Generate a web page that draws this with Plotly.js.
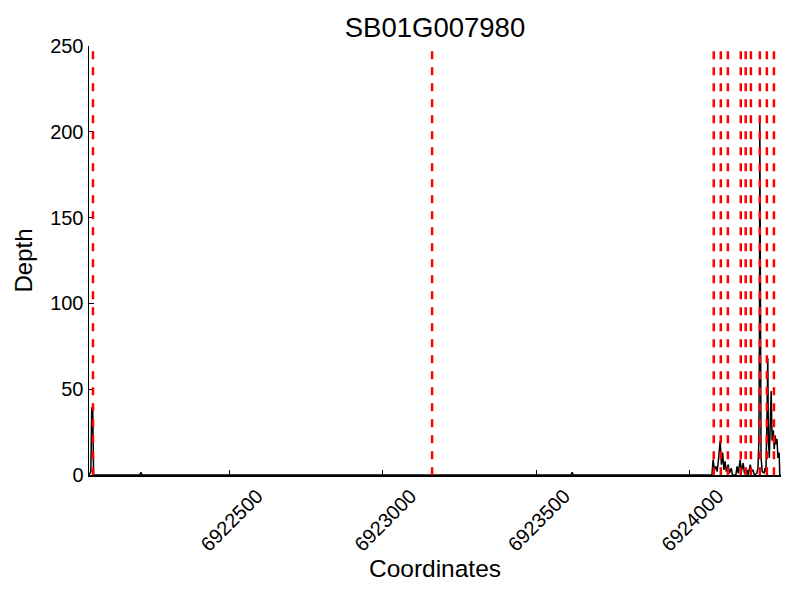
<!DOCTYPE html>
<html>
<head>
<meta charset="utf-8">
<script src="https://cdn.plot.ly/plotly-3.0.1.min.js"></script>
<style>html,body{margin:0;padding:0;background:#fff;}#chart{width:800px;height:600px;}</style>
</head>
<body>
<div id="chart"></div>
<script>
// Depth coverage along the gene region
const positions = [
  6922044, 6922050, 6922053, 6922056, 6922059,
  6922209, 6922213, 6922217,
  6923613, 6923617, 6923621,
  6924072, 6924076, 6924080, 6924085, 6924089, 6924093, 6924099, 6924103, 6924107, 6924111,
  6924115, 6924119, 6924125, 6924129, 6924135, 6924139, 6924150, 6924154, 6924158, 6924164,
  6924168, 6924174, 6924178, 6924187, 6924190, 6924197, 6924201, 6924206, 6924210, 6924218,
  6924222, 6924225, 6924227, 6924228, 6924229, 6924230, 6924232, 6924236, 6924242, 6924245,
  6924248, 6924251, 6924254, 6924256, 6924259, 6924262, 6924265, 6924268, 6924272, 6924275,
  6924278, 6924281, 6924284, 6924287, 6924291, 6924293, 6924297
];
const depths = [
  0, 2, 39, 39, 0,
  0, 1.5, 0,
  0, 1.5, 0,
  0, 9, 3, 5, 2, 8, 20, 6, 13, 3,
  8, 2, 6, 1, 4, 0, 0, 5, 1, 9,
  2, 7, 1, 3, 0, 6, 2, 3, 0, 1,
  4, 20, 87, 208, 120, 47, 10, 2, 1, 4,
  2, 30, 68, 20, 10, 30, 49, 20, 26, 15,
  23, 18, 21, 10, 13, 0, 0
];
// Exon / feature boundaries (red dashed lines)
const boundaries = [6922057, 6923161, 6924078, 6924101, 6924124, 6924166, 6924182, 6924199, 6924228, 6924251, 6924274];
const lineTop = 247;

const xTicks = [6922500, 6923000, 6923500, 6924000];
const yTicks = [0, 50, 100, 150, 200, 250];
const titleText = "SB01G007980";
const xLabel = "Coordinates";
const yLabel = "Depth";

const trace = {
  x: positions, y: depths, type: 'scatter', mode: 'lines',
  line: {color: '#000000', width: 1.5}, hoverinfo: 'skip', showlegend: false
};

const shapes = boundaries.map(b => ({
  type: 'line', xref: 'x', yref: 'y', x0: b, x1: b, y0: lineTop, y1: 0,
  line: {color: '#ff0000', width: 2.5, dash: '8px,8px'}, layer: 'above'
}));

const font = "'Liberation Sans', Arial, Helvetica, sans-serif";
const layout = {
  width: 800, height: 600,
  paper_bgcolor: '#ffffff', plot_bgcolor: '#ffffff',
  margin: {l: 89, r: 19, t: 46, b: 125},
  font: {family: font, color: '#000000', size: 20},
  title: {text: titleText, font: {family: font, size: 27.5, color: '#000'}, x: 0.5, xref: 'paper', y: 1 - 27/600, yref: 'container', yanchor: 'middle'},
  xaxis: {
    range: [6922044, 6924297], tickvals: xTicks, ticktext: xTicks.map(String),
    tickangle: -45, ticks: 'inside', ticklen: 5, tickwidth: 1, tickcolor: '#000',
    ticklabelshift: 28,
    showline: true, linecolor: '#000', linewidth: 1.5, mirror: false,
    showgrid: false, zeroline: false, automargin: false,
    tickfont: {size: 20},
    title: {text: xLabel, font: {size: 24.5}, standoff: 3}
  },
  yaxis: {
    range: [0, 250], tickvals: yTicks, ticktext: yTicks.map(String),
    ticks: 'inside', ticklen: 5, tickwidth: 1, tickcolor: '#000',
    showline: true, linecolor: '#000', linewidth: 1.5, mirror: false,
    showgrid: false, zeroline: false, automargin: false,
    tickfont: {size: 20},
    title: {text: yLabel, font: {size: 24}, standoff: 10}
  },
  shapes: shapes
};

Plotly.newPlot('chart', [trace], layout, {staticPlot: true, displayModeBar: false});
</script>
</body>
</html>
